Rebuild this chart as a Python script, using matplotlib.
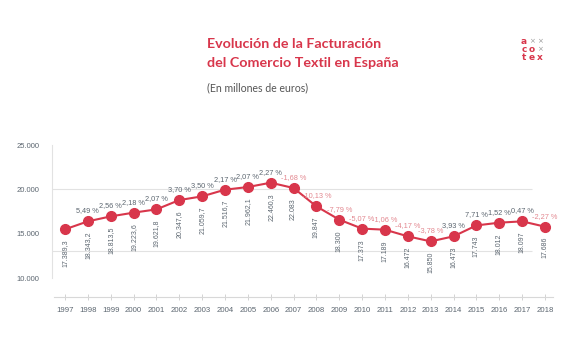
import numpy as np
import matplotlib.pyplot as plt

years = list(range(1997, 2019))
# posicion dibujada de cada punto
plot_y = [15490, 16390, 16950, 17370, 17740, 18790, 19210, 19960, 20260, 20750, 20150,
          18080, 16580, 15570, 15450, 14700, 14130, 14700, 15930, 16240, 16390, 15790]
value_labels = ['17.389,3', '18.343,2', '18.813,5', '19.223,6', '19.621,8', '20.347,6',
                '21.059,7', '21.516,7', '21.962,1', '22.460,3', '22.083', '19.847', '18.300',
                '17.373', '17.189', '16.472', '15.850', '16.473', '17.743', '18.012',
                '18.097', '17.686']
pct = [None, 5.49, 2.56, 2.18, 2.07, 3.70, 3.50, 2.17, 2.07, 2.27, -1.68, -10.13, -7.79,
       -5.07, -1.06, -4.17, -3.78, 3.93, 7.71, 1.52, 0.47, -2.27]
yticks = [10000, 15000, 20000, 25000]
grid_y = [13100, 20000]

RED = '#d8364b'
GRAY = '#5c6670'
PINK = '#e38890'
FONT = 'Liberation Sans'

fig = plt.figure(figsize=(5.88, 3.53), dpi=100)
ax = fig.add_axes([0.0884, 0.1586, 0.852, 0.4306])
ax.set_xlim(1996.43, 2018.35)
ax.set_ylim(7856, 25000)

for g in grid_y:
    ax.hlines(g, 1996.43, 2017.43, color='#e2e2e2', lw=0.8, zorder=1)

ax.plot(years, plot_y, color=RED, lw=1.5, marker='o', ms=7, zorder=3)

for x, y, v, p in zip(years, plot_y, value_labels, pct):
    ax.annotate(v, (x, y), xytext=(0, -7.5), textcoords='offset points', rotation=90,
                ha='center', va='top', fontsize=5, color=GRAY, family=FONT)
    if p is not None:
        txt = f'{p:.2f} %'.replace('.', ',')
        ax.annotate(txt, (x, y), xytext=(0, 5), textcoords='offset points',
                    ha='center', va='bottom', fontsize=5.3, family=FONT,
                    color=PINK if p < 0 else GRAY)

ax.set_xticks(years)
ax.set_xticklabels([str(y) for y in years], fontsize=5.6, color=GRAY, family=FONT)
ax.tick_params(axis='x', direction='inout', length=4, width=0.6, color='#cccccc', pad=5)
ax.set_yticks(yticks)
ax.set_yticklabels([f'{t:,}'.replace(',', '.') for t in yticks], fontsize=5.5,
                   color=GRAY, family=FONT)
ax.tick_params(axis='y', length=0, pad=9)

for s in ['top', 'right']:
    ax.spines[s].set_visible(False)
ax.spines['left'].set_bounds(10000, 25000)
ax.spines['left'].set_color('#e2e2e2')
ax.spines['left'].set_linewidth(0.8)
ax.spines['bottom'].set_color('#d8d8d8')
ax.spines['bottom'].set_linewidth(0.8)
ax.spines['bottom'].set_bounds(1996.5, 2018.35)

fig.text(207 / 588, 1 - 44 / 353, 'Evolución de la Facturación', fontsize=10.3,
         fontweight='bold', color=RED, family='Lato', va='center')
fig.text(207 / 588, 1 - 63 / 353, 'del Comercio Textil en España', fontsize=10.3,
         fontweight='bold', color=RED, family='Lato', va='center')
fig.text(207 / 588, 1 - 88 / 353, '(En millones de euros)', fontsize=7.6,
         color='#555555', family='Lato', va='center')

# logo
logo = [['a', '×', '×'], ['c', 'o', '×'], ['t', 'e', 'x']]
for i, row in enumerate(logo):
    for j, ch in enumerate(row):
        fig.text((524 + j * 8) / 588, 1 - (41 + i * 8) / 353, ch, fontsize=6.5 if ch != '×' else 5,
                 fontweight='bold' if ch != '×' else 'normal',
                 color=RED if ch != '×' else '#999999', family='DejaVu Sans',
                 ha='center', va='center')

fig.savefig('out.png', dpi=100, facecolor='white')
